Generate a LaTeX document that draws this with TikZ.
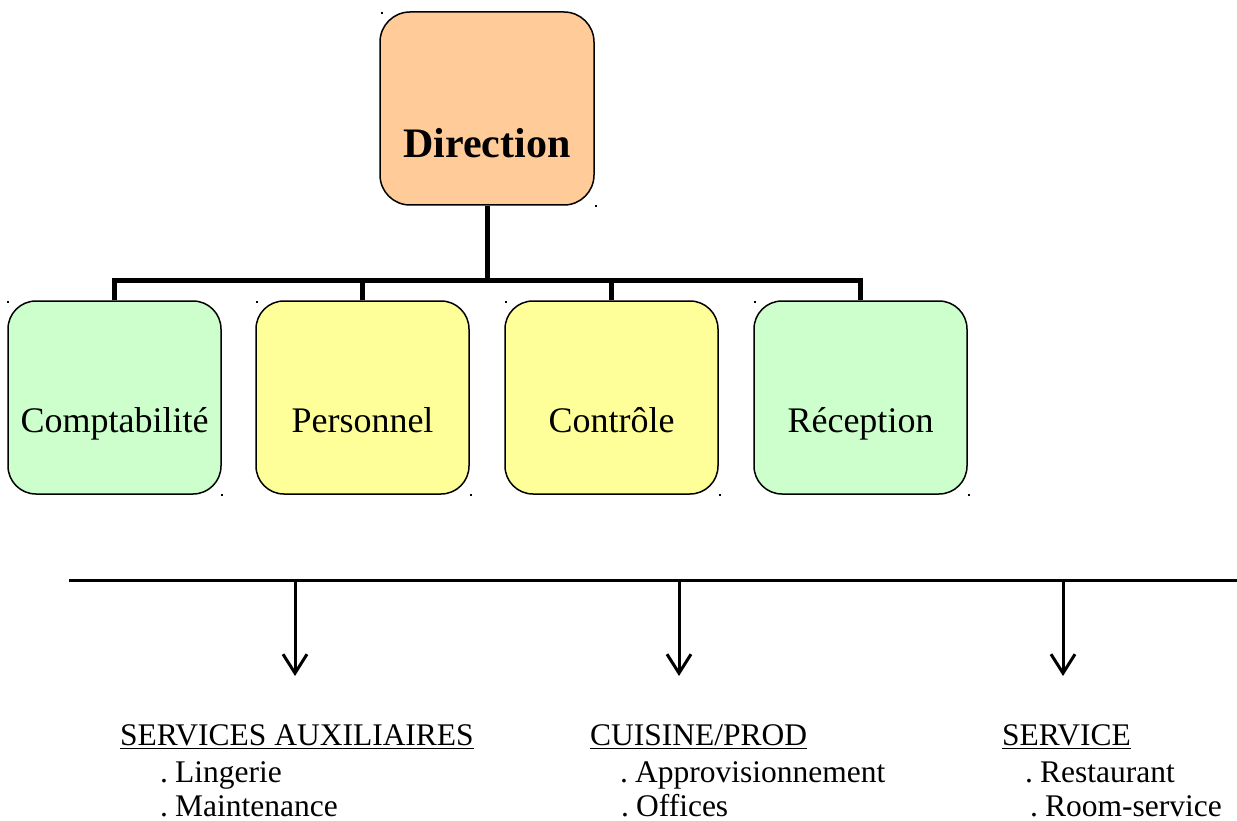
\documentclass[tikz,border=0pt]{standalone}
\usepackage{fontspec}
\setmainfont{Liberation Serif}
\usetikzlibrary{arrows.meta}
\definecolor{orangebox}{HTML}{FFCC99}
\definecolor{greenbox}{HTML}{CCFFCC}
\definecolor{yellowbox}{HTML}{FFFF99}
\newcommand{\dotitem}[1]{.\kern7pt #1}
\begin{document}
\begin{tikzpicture}[x=1pt,y=-1pt,
  dirbox/.style={draw=black,line width=1.5pt,rounded corners=30pt,fill=orangebox,
    minimum width=214pt,inner sep=0pt,text height=145.5pt,text depth=47.5pt,
    font=\fontsize{42}{46}\selectfont\bfseries},
  deptbox/.style={draw=black,line width=1.5pt,rounded corners=28pt,
    minimum width=213pt,inner sep=0pt,text height=131pt,text depth=62pt,
    font=\fontsize{36}{40}\selectfont},
  bus/.style={line width=5pt,line join=miter},
  mainline/.style={line width=3pt},
  downarrow/.style={line width=3pt,-{Straight Barb[length=19pt,width=24pt,line width=3pt]}},
  listtxt/.style={anchor=base west,inner sep=0pt,font=\fontsize{31.5}{36}\selectfont},
  uline/.style={line width=1.5pt}
]
\useasboundingbox (0,0) rectangle (1237,821);

% boxes
\node[dirbox] (dir) at (487,108.5) {Direction};
\node[deptbox,fill=greenbox] (comp) at (114.5,397.5) {Comptabilité};
\node[deptbox,fill=yellowbox] (pers) at (362.5,397.5) {Personnel};
\node[deptbox,fill=yellowbox] (ctrl) at (611.5,397.5) {Contrôle};
\node[deptbox,fill=greenbox] (recep) at (860.5,397.5) {Réception};

% corner handle dots
\foreach \p in {(381,12),(595,205),(7,301),(221,494),(256,301),(470,494),(505,301),(719,494),(754,301),(968,494)}
  \fill \p rectangle ++(1.6,1.6);

% tree connectors
\coordinate (junction) at (487,280);
\draw[bus] (dir.south) -- (junction);
\draw[bus] (comp.north) -- (comp.north |- junction) -- (recep.north |- junction) -- (recep.north);
\draw[bus] (pers.north) -- (pers.north |- junction);
\draw[bus] (ctrl.north) -- (ctrl.north |- junction);

% bottom line and arrows
\coordinate (lineL) at (69,580);
\coordinate (lineR) at (1237,580);
\draw[mainline] (lineL) -- (lineR);
\coordinate (a1) at (295,580); \coordinate (t1) at (295,676);
\coordinate (a2) at (679,580); \coordinate (t2) at (679,676);
\coordinate (a3) at (1063,580); \coordinate (t3) at (1063,676);
\draw[downarrow] (a1) -- (t1);
\draw[downarrow] (a2) -- (t2);
\draw[downarrow] (a3) -- (t3);

% lists
\node[listtxt] (h1) at (120,745) {SERVICES AUXILIAIRES};
\node[listtxt] (l11) at (160,782) {\dotitem{Lingerie}};
\node[listtxt] (l12) at (160,816) {\dotitem{Maintenance}};
\node[listtxt] (h2) at (590,745) {CUISINE/PROD};
\node[listtxt] (l21) at (620,782) {\dotitem{Approvisionnement}};
\node[listtxt] (l22) at (621,816) {\dotitem{Offices}};
\node[listtxt] (h3) at (1002,745) {SERVICE};
\node[listtxt] (l31) at (1025,782) {\dotitem{Restaurant}};
\node[listtxt] (l32) at (1030,816) {\dotitem{Room-service}};

\draw[uline] ([yshift=-3.5pt]h1.base west) -- ([yshift=-3.5pt]h1.base east);
\draw[uline] ([yshift=-3.5pt]h2.base west) -- ([yshift=-3.5pt]h2.base east);
\draw[uline] ([yshift=-3.5pt]h3.base west) -- ([yshift=-3.5pt]h3.base east);
\end{tikzpicture}
\end{document}
